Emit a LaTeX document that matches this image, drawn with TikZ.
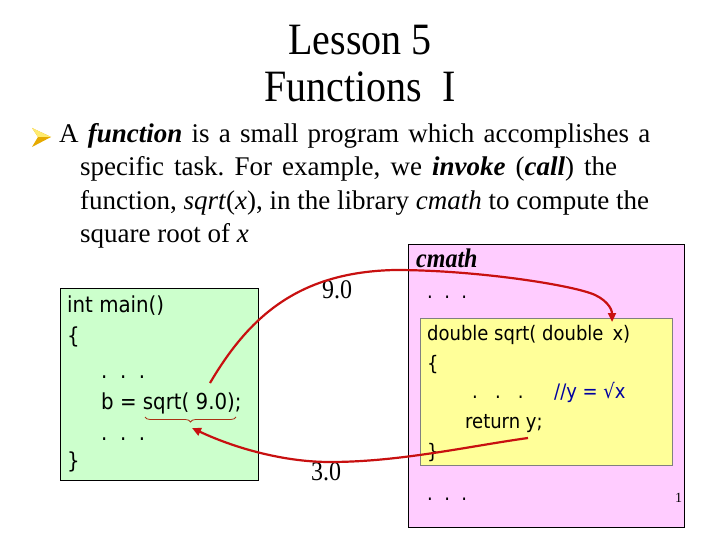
\documentclass[tikz,border=0pt]{standalone}
\usepackage{fontspec}
\setmainfont{Liberation Serif}
\newfontfamily\codefont{DejaVu Sans Condensed}
\usetikzlibrary{arrows.meta,decorations.pathreplacing}
\definecolor{greenbox}{RGB}{204,255,204}
\definecolor{pinkbox}{RGB}{255,204,255}
\definecolor{yellowbox}{RGB}{255,255,153}
\definecolor{arrowred}{RGB}{200,16,16}
\definecolor{bracered}{RGB}{170,50,20}
\definecolor{commentblue}{RGB}{0,0,160}
\definecolor{bulletlight}{RGB}{255,235,110}
\definecolor{bulletdark}{RGB}{230,170,0}
\newcommand\vst[1]{\scalebox{1}[1.12]{#1}}
\frenchspacing
\begin{document}
\begin{tikzpicture}[x=1pt,y=-1pt,
  txt/.style={anchor=base west, inner sep=0pt, font=\fontsize{27}{31}\selectfont},
  val/.style={anchor=base, inner sep=0pt, font=\fontsize{24}{28}\selectfont},
  code/.style={anchor=base west, inner sep=0pt, font=\codefont\fontsize{22}{26}\selectfont},
  ycode/.style={code, font=\codefont\fontsize{20}{24}\selectfont},
  titletext/.style={anchor=base, inner sep=0pt, font=\fontsize{40}{46}\selectfont},
  box/.style={draw=black, line width=1pt},
  flow/.style={draw=arrowred, line width=2.2pt, -{Triangle[length=9pt,width=8pt]}},
]
\useasboundingbox[fill=white] (0,0) rectangle (720,540);

% title
\node[titletext] (t1) at (360,55) {\vst{Lesson 5}};
\node[titletext] (t2) at (360,102) {\vst{Functions\ \ I}};

% bullet
\fill[bulletdark] (32,128) -- (51,137) -- (32,147) -- (38,137) -- cycle;
\fill[bulletlight] (32,128) -- (51,137) -- (38,137) -- cycle;

% body
\node[txt] (l1) at (59,143) {\makebox[591pt][s]{A \textbf{\textit{function}} is a small program which accomplishes a}};
\node[txt] (l2) at (80,176) {\makebox[537pt][s]{specific task. For example, we \textbf{\textit{invoke}} (\textbf{\textit{call}}) the}};
\node[txt] (l3) at (80,210) {function, \textit{sqrt}(\textit{x}), in the library \textit{cmath} to compute the};
\node[txt] (l4) at (80,243) {square root of \textit{x}};

% boxes
\fill[greenbox] (60,288) rectangle (258,480);
\draw[box] (60,288) rectangle (258,480);
\fill[pinkbox] (408,244) rectangle (684,527);
\draw[box] (408,244) rectangle (684,527);
\fill[yellowbox] (420,318) rectangle (672,465);
\draw[draw=gray, line width=1pt] (420,318) rectangle (672,465);

% main code
\node[code] (g1) at (67,312) {int main()};
\node[code] (g2) at (67,343) {\{};
\node[code] (g3) at (101,378) {.\ \ .\ \ .};
\node[code] (g4) at (101,409) {b = sqrt( 9.0);};
\node[code] (g5) at (101,440) {.\ \ .\ \ .};
\node[code] (g6) at (67,468) {\}};
\draw[bracered, line width=0.8pt, decorate, decoration={brace, mirror, amplitude=5pt}]
  (145,417) -- (236,417);

% cmath
\node[anchor=base west, inner sep=0pt, font=\fontsize{24}{28}\selectfont\bfseries\itshape] (cm) at (416,267) {\vst{cmath}};
\node[ycode] (p1) at (427,298) {.\ \ .\ \ .};
\node[ycode] (y1) at (427,340) {double sqrt( double\hspace{9pt}x)};
\node[ycode] (y2) at (427,370) {\{};
\node[ycode] (y3) at (472,398) {.\ \ \ .\ \ \ .};
\node[ycode, text=commentblue] (y3c) at (554,398) {//y = √x};
\node[ycode] (y4) at (465,428) {return y;};
\node[ycode] (y5) at (427,458) {\}};
\node[ycode] (p2) at (427,500) {.\ \ .\ \ .};
\node[anchor=base west, inner sep=0pt, font=\fontsize{14}{16}\selectfont] (pg) at (675,502) {1};

% values
\node[val] (v9) at (337,298) {\vst{9.0}};
\node[val] (v3) at (326,480) {\vst{3.0}};

% connectors
\coordinate (callstart) at (210,383);
\coordinate (callend) at (612,322);
\coordinate (retstart) at (528,438);
\coordinate (retend) at (192,428);
\draw[flow] (callstart) .. controls (250,315) and (300,272) .. (395,270)
  .. controls (470,270) and (560,283) .. (590,293)
  .. controls (605,298) and (612,308) .. (callend);
\draw[flow] (retstart) .. controls (470,446) and (400,462) .. (330,462)
  .. controls (280,462) and (230,446) .. (retend);
\end{tikzpicture}
\end{document}
